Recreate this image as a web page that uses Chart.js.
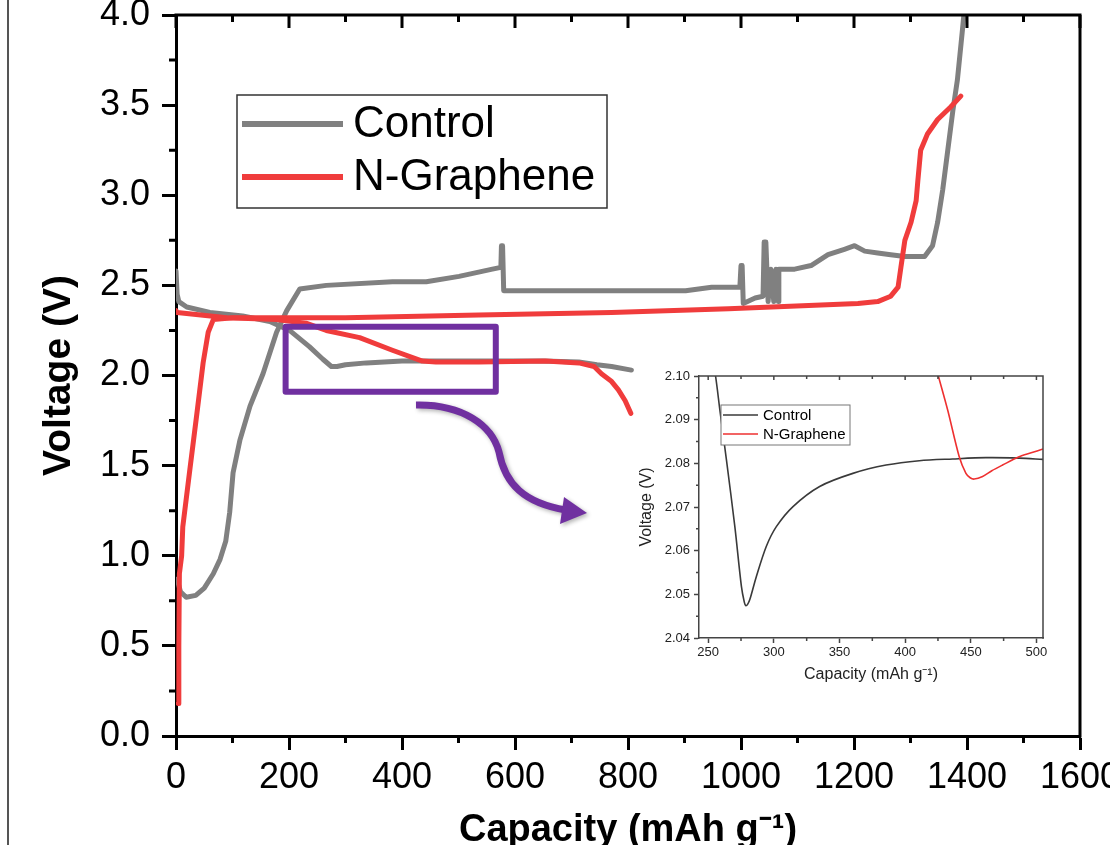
<!DOCTYPE html>
<html>
<head>
<meta charset="utf-8">
<title>Voltage profiles</title>
<script src="https://cdn.jsdelivr.net/npm/chart.js@4.4.0/dist/chart.umd.min.js"></script>
<style>
  html, body { margin: 0; padding: 0; background: #fff; }
  #wrap { position: relative; width: 1110px; height: 845px; overflow: hidden; }
  #main { position: absolute; left: 0; top: 0; }
  #inset { position: absolute; left: 620px; top: 360px; }
  .page-edge { position: absolute; left: 7px; top: 0; width: 2px; height: 845px; background: #555; }
</style>
</head>
<body>
<div id="wrap">
  <div class="page-edge"></div>
  <canvas id="main" width="1110" height="845"></canvas>
  <canvas id="inset" width="440" height="330"></canvas>
</div>
<script>
// Main chart data (capacity in mAh/g, voltage in V)
const controlDisCap = [0, 2, 5, 19, 60, 118, 166, 201, 236, 260, 275, 285, 300, 337, 400, 450, 550, 650, 713, 745, 771, 806];
const controlDisV   = [2.58, 2.45, 2.41, 2.38, 2.35, 2.33, 2.30, 2.25, 2.16, 2.09, 2.05, 2.05, 2.06, 2.07, 2.08, 2.08, 2.08, 2.08, 2.075, 2.06, 2.05, 2.03];

const controlChgCap = [2, 8, 18, 35, 50, 66, 78, 88, 95, 101, 113, 131, 154, 178, 196, 219, 266, 383, 443, 501, 560, 575, 576, 578, 580,
  902, 948, 998, 1000, 1002, 1004, 1025, 1039, 1041, 1044, 1048, 1053, 1058, 1062, 1066, 1067, 1095, 1124, 1154, 1183, 1201, 1219,
  1242, 1265, 1290, 1325, 1339, 1348, 1357, 1366, 1375, 1383, 1392, 1396];
const controlChgV   = [0.87, 0.80, 0.77, 0.78, 0.82, 0.90, 0.98, 1.08, 1.24, 1.46, 1.64, 1.83, 2.01, 2.24, 2.36, 2.48, 2.50, 2.52, 2.52, 2.55, 2.59, 2.60, 2.72, 2.72, 2.47,
  2.47, 2.49, 2.49, 2.61, 2.61, 2.40, 2.43, 2.44, 2.74, 2.74, 2.41, 2.59, 2.41, 2.59, 2.41, 2.59, 2.59, 2.61, 2.67, 2.70, 2.72, 2.69,
  2.68, 2.67, 2.66, 2.66, 2.72, 2.85, 3.03, 3.25, 3.47, 3.64, 3.92, 4.05];

const ngDisCap = [0, 2, 90, 178, 230, 266, 325, 383, 436, 460, 536, 654, 713, 740, 753, 770, 783, 795, 805];
const ngDisV   = [2.36, 2.35, 2.32, 2.31, 2.29, 2.25, 2.21, 2.14, 2.08, 2.075, 2.075, 2.08, 2.07, 2.05, 2.01, 1.97, 1.92, 1.86, 1.79];

const ngChgCap = [4, 5, 6, 10, 12, 25, 37, 48, 57, 66, 101, 300, 536, 771, 978, 1207, 1242, 1265, 1278, 1283, 1290, 1301, 1310, 1313, 1318, 1330, 1348, 1371, 1389];
const ngChgV   = [0.18, 0.5, 0.9, 1.0, 1.16, 1.49, 1.79, 2.07, 2.24, 2.31, 2.32, 2.32, 2.335, 2.35, 2.37, 2.40, 2.41, 2.44, 2.49, 2.60, 2.75, 2.85, 2.97, 3.08, 3.25, 3.34, 3.42, 3.49, 3.55];

// Inset data (zoom of the discharge plateau)
const insetControlCap = [254, 255.6, 258.9, 263.9, 270.3, 275.3, 277.5, 278.6, 280, 281.7, 286.7, 294.3, 301.9, 314.6, 334.9, 360.2, 385.5, 410.8, 436.2, 461.5, 486.8, 505];
const insetControlV   = [2.102, 2.10, 2.0922, 2.0808, 2.0655, 2.0518, 2.0482, 2.0474, 2.0477, 2.0488, 2.0541, 2.061, 2.0655, 2.0701, 2.0747, 2.0777, 2.0796, 2.0806, 2.081, 2.0813, 2.0812, 2.0809];
const insetNgCap = [424, 425.3, 432.4, 441.2, 446.3, 449.5, 452.6, 459, 466, 474.2, 486.8, 496, 505];
const insetNgV   = [2.1015, 2.10, 2.0922, 2.0815, 2.0777, 2.0767, 2.0764, 2.077, 2.0783, 2.0796, 2.0815, 2.0824, 2.0833];

// Tick positions
const capTicks = [0, 200, 400, 600, 800, 1000, 1200, 1400, 1600];
const capMinor = [100, 300, 500, 700, 900, 1100, 1300, 1500];
const voltTicks = [0, 0.5, 1, 1.5, 2, 2.5, 3, 3.5, 4];
const voltMinor = [0.25, 0.75, 1.25, 1.75, 2.25, 2.75, 3.25, 3.75];
const insetCapTicks = [250, 300, 350, 400, 450, 500];
const insetCapMinor = [275, 325, 375, 425, 475];
const insetVoltTicks = [2.04, 2.05, 2.06, 2.07, 2.08, 2.09, 2.10];
const insetVoltMinor = [2.045, 2.055, 2.065, 2.075, 2.085, 2.095];

const seriesLabels = ['Control', 'N-Graphene'];
const GRAY = '#808080';
const RED = '#F03C3C';
const PURPLE = '#7030A0';

Chart.defaults.font.family = '"Liberation Sans", Arial, sans-serif';
Chart.defaults.color = '#000';

const pts = (xs, ys) => xs.map((x, i) => ({ x: x, y: ys[i] }));

// Top/right frame, minor ticks, inward top ticks
const frameTicks = {
  id: 'frameTicks',
  afterDraw(chart, args, o) {
    const { ctx, chartArea: a, scales: { x, y } } = chart;
    ctx.save();
    ctx.strokeStyle = o.color;
    ctx.lineWidth = o.width;
    ctx.lineCap = 'square';
    ctx.beginPath();
    ctx.moveTo(a.left, a.top);
    ctx.lineTo(a.right, a.top);
    ctx.lineTo(a.right, a.bottom);
    ctx.stroke();
    ctx.lineCap = 'butt';
    ctx.beginPath();
    o.xMinor.forEach(v => {
      const px = x.getPixelForValue(v);
      ctx.moveTo(px, a.bottom); ctx.lineTo(px, a.bottom + o.minorLen);
      ctx.moveTo(px, a.top); ctx.lineTo(px, a.top + o.minorLen);
    });
    o.xMajor.forEach(v => {
      const px = x.getPixelForValue(v);
      ctx.moveTo(px, a.top); ctx.lineTo(px, a.top + o.majorLen);
    });
    o.yMinor.forEach(v => {
      const py = y.getPixelForValue(v);
      ctx.moveTo(a.left, py); ctx.lineTo(a.left - o.minorLen, py);
    });
    ctx.stroke();
    ctx.restore();
  }
};

// Legend in a bordered box
const boxLegend = {
  id: 'boxLegend',
  afterDraw(chart, args, o) {
    const ctx = chart.ctx;
    ctx.save();
    ctx.fillStyle = '#fff';
    ctx.fillRect(o.x, o.y, o.w, o.h);
    ctx.strokeStyle = o.border;
    ctx.lineWidth = o.borderWidth;
    ctx.strokeRect(o.x, o.y, o.w, o.h);
    ctx.font = o.fontSize + 'px "Liberation Sans", Arial, sans-serif';
    ctx.textBaseline = 'middle';
    o.items.forEach((it, i) => {
      const ly = o.rows[i];
      ctx.strokeStyle = it.color;
      ctx.lineWidth = o.lineWidth;
      ctx.beginPath();
      ctx.moveTo(o.lineFrom, ly);
      ctx.lineTo(o.lineTo, ly);
      ctx.stroke();
      ctx.fillStyle = '#000';
      ctx.fillText(it.text, o.textX, ly + 1);
    });
    ctx.restore();
  }
};

// Purple zoom box and curved arrow
const zoomMarks = {
  id: 'zoomMarks',
  afterDraw(chart) {
    const { ctx, scales: { x, y } } = chart;
    const x0 = x.getPixelForValue(194), x1 = x.getPixelForValue(566);
    const y0 = y.getPixelForValue(2.27), y1 = y.getPixelForValue(1.91);
    ctx.save();
    ctx.strokeStyle = PURPLE;
    ctx.lineWidth = 6;
    ctx.lineJoin = 'round';
    ctx.strokeRect(x0, y0, x1 - x0, y1 - y0);

    ctx.shadowColor = 'rgba(0,0,0,0.3)';
    ctx.shadowBlur = 4;
    ctx.shadowOffsetX = 2;
    ctx.shadowOffsetY = 2;
    ctx.lineWidth = 7;
    ctx.lineCap = 'butt';
    ctx.beginPath();
    ctx.moveTo(416, 405);
    ctx.bezierCurveTo(462, 404, 492, 425, 499, 452);
    ctx.bezierCurveTo(505, 484, 524, 503, 566, 510);
    ctx.stroke();
    ctx.fillStyle = PURPLE;
    ctx.beginPath();
    ctx.moveTo(587, 513);
    ctx.lineTo(564, 497);
    ctx.lineTo(560, 524);
    ctx.closePath();
    ctx.fill();
    ctx.restore();
  }
};

new Chart(document.getElementById('main'), {
  type: 'line',
  data: {
    datasets: [
      { label: 'N-Graphene', data: pts(ngChgCap, ngChgV), borderColor: RED, borderWidth: 5, order: 0 },
      { label: 'N-Graphene', data: pts(ngDisCap, ngDisV), borderColor: RED, borderWidth: 5, order: 0 },
      { label: 'Control', data: pts(controlChgCap, controlChgV), borderColor: GRAY, borderWidth: 5, order: 1 },
      { label: 'Control', data: pts(controlDisCap, controlDisV), borderColor: GRAY, borderWidth: 5, order: 1 }
    ]
  },
  options: {
    responsive: false,
    animation: false,
    layout: { padding: { top: 15, right: 30, left: 0, bottom: 0 } },
    elements: {
      point: { radius: 0 },
      line: { tension: 0, borderCapStyle: 'round', borderJoinStyle: 'round' }
    },
    plugins: {
      legend: { display: false },
      tooltip: { enabled: false },
      frameTicks: { color: '#000', width: 3, minorLen: 7, majorLen: 13, xMinor: capMinor, xMajor: capTicks, yMinor: voltMinor },
      boxLegend: {
        x: 237, y: 95, w: 370, h: 113, border: '#333', borderWidth: 1.5,
        fontSize: 44, lineWidth: 6, lineFrom: 242, lineTo: 343, textX: 353, rows: [124, 177],
        items: [{ text: seriesLabels[0], color: GRAY }, { text: seriesLabels[1], color: RED }]
      }
    },
    scales: {
      x: {
        type: 'linear', min: 0, max: 1600,
        afterBuildTicks: s => { s.ticks = capTicks.map(v => ({ value: v })); },
        afterFit: s => { s.height = 109; s.paddingLeft = 0; s.paddingRight = 0; },
        ticks: { font: { size: 36 }, color: '#000', padding: 6, maxRotation: 0, autoSkip: false, callback: v => String(v) },
        grid: { drawOnChartArea: false, tickLength: 14, tickWidth: 3, tickColor: '#000' },
        border: { color: '#000', width: 3 },
        title: {
          display: true, text: 'Capacity (mAh g\u207B\u00B9)', color: '#000',
          font: { size: 38, weight: 'bold', lineHeight: 1 }, padding: { top: 0, bottom: -5 }
        }
      },
      y: {
        min: 0, max: 4,
        afterBuildTicks: s => { s.ticks = voltTicks.map(v => ({ value: v })); },
        afterFit: s => { s.width = 176; s.paddingTop = 0; s.paddingBottom = 0; },
        ticks: { font: { size: 36 }, color: '#000', padding: 12, autoSkip: false, callback: v => v.toFixed(1) },
        grid: { drawOnChartArea: false, tickLength: 14, tickWidth: 3, tickColor: '#000' },
        border: { color: '#000', width: 3 },
        title: {
          display: true, text: 'Voltage (V)', color: '#000',
          font: { size: 39, weight: 'bold', lineHeight: 1 }, padding: { top: 40, bottom: 0 }
        }
      }
    }
  },
  plugins: [frameTicks, boxLegend, zoomMarks]
});

// Inset chart
new Chart(document.getElementById('inset'), {
  type: 'line',
  data: {
    datasets: [
      { label: 'N-Graphene', data: pts(insetNgCap, insetNgV), borderColor: '#EE3030', borderWidth: 1.6, order: 0, clip: 0 },
      { label: 'Control', data: pts(insetControlCap, insetControlV), borderColor: '#3a3a3a', borderWidth: 1.6, order: 1, clip: 0 }
    ]
  },
  options: {
    responsive: false,
    animation: false,
    layout: { padding: { top: 16, right: 17, left: 0, bottom: 0 } },
    elements: {
      point: { radius: 0 },
      line: { tension: 0.3, borderCapStyle: 'butt', borderJoinStyle: 'round' }
    },
    plugins: {
      legend: { display: false },
      tooltip: { enabled: false },
      frameTicks: { color: '#444', width: 1.5, minorLen: 3, majorLen: 4, xMinor: insetCapMinor, xMajor: insetCapTicks, yMinor: insetVoltMinor },
      boxLegend: {
        x: 101, y: 45, w: 129, h: 40, border: '#777', borderWidth: 1,
        fontSize: 15, lineWidth: 1.6, lineFrom: 103, lineTo: 138, textX: 143, rows: [55, 74],
        items: [{ text: seriesLabels[0], color: '#3a3a3a' }, { text: seriesLabels[1], color: '#EE3030' }]
      }
    },
    scales: {
      x: {
        type: 'linear', min: 243, max: 505,
        afterBuildTicks: s => { s.ticks = insetCapTicks.map(v => ({ value: v })); },
        afterFit: s => { s.height = 52; s.paddingLeft = 0; s.paddingRight = 0; },
        ticks: { font: { size: 13 }, color: '#222', padding: 2, maxRotation: 0, autoSkip: false, callback: v => String(v) },
        grid: { drawOnChartArea: false, tickLength: 5, tickWidth: 1.5, tickColor: '#444' },
        border: { color: '#444', width: 1.5 },
        title: {
          display: true, text: 'Capacity (mAh g\u207B\u00B9)', color: '#222',
          font: { size: 16, lineHeight: 1 }, padding: { top: 0, bottom: 7 }
        }
      },
      y: {
        min: 2.04, max: 2.10,
        afterBuildTicks: s => { s.ticks = insetVoltTicks.map(v => ({ value: v })); },
        afterFit: s => { s.width = 79; s.paddingTop = 0; s.paddingBottom = 0; },
        ticks: { font: { size: 13 }, color: '#222', padding: 4, autoSkip: false, callback: v => v.toFixed(2) },
        grid: { drawOnChartArea: false, tickLength: 5, tickWidth: 1.5, tickColor: '#444' },
        border: { color: '#444', width: 1.5 },
        title: {
          display: true, text: 'Voltage (V)', color: '#222',
          font: { size: 16, lineHeight: 1 }, padding: { top: 19, bottom: 0 }
        }
      }
    }
  },
  plugins: [frameTicks, boxLegend]
});
</script>
</body>
</html>
